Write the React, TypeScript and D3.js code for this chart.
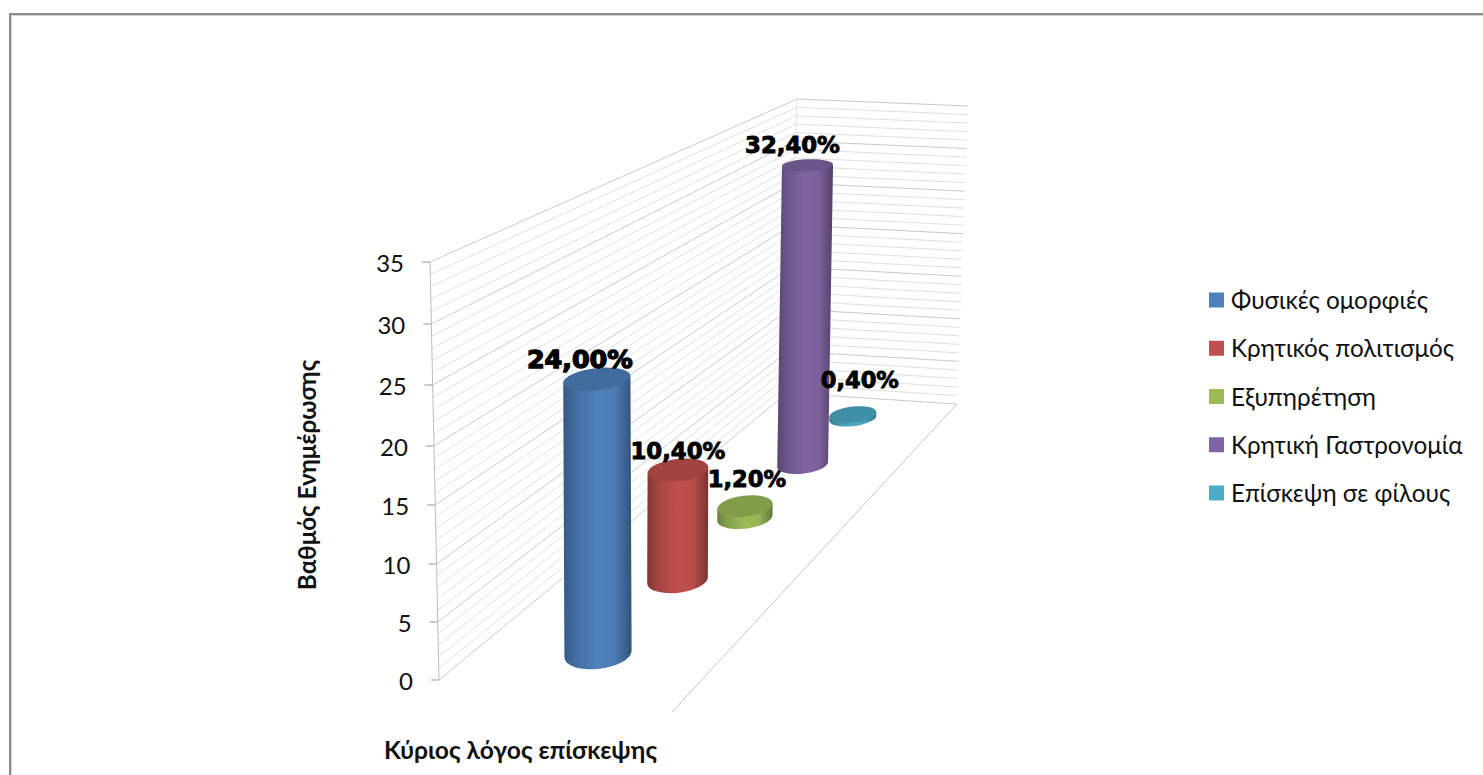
import React from "react";
import * as d3 from "d3";

// Share of respondents by main reason for visiting
const categories = ["Φυσικές ομορφιές", "Κρητικός πολιτισμός", "Εξυπηρέτηση", "Κρητική Γαστρονομία", "Επίσκεψη σε φίλους"];
const values = [24.0, 10.4, 1.2, 32.4, 0.4];
const valueLabels = ["24,00%", "10,40%", "1,20%", "32,40%", "0,40%"];
const colors = ["#4f81bd", "#c0504d", "#9bbb59", "#8064a2", "#4bacc6"];
const majorTicks = [0, 5, 10, 15, 20, 25, 30, 35];
const minorTicks = d3.range(0, 36);
const yTitle = "Βαθμός Ενημέρωσης";
const xTitle = "Κύριος λόγος επίσκεψης";

const WIDTH = 1483;
const HEIGHT = 775;
const FONT = "Lato, 'Open Sans', 'Noto Sans', sans-serif";
const LABEL_FONT = "'DejaVu Sans', 'Liberation Sans', sans-serif";

// Vertical scales along the three upright edges of the 3D walls
const frontY = d3.scaleLinear<number>().domain(majorTicks).range([680, 622, 564, 505, 446, 385, 324, 262]);
const frontX = d3.scaleLinear().domain([0, 35]).range([439, 430]);
const backY = d3.scaleLinear().domain([0, 35]).range([393, 99]);
const backX = d3.scaleLinear().domain([0, 35]).range([787, 797]);
const endY = d3.scaleLinear().domain([0, 35]).range([404, 106]);
const endX = d3.scaleLinear().domain([0, 35]).range([957, 968]);

// Depth position of each category along the floor
const depth = d3.scalePoint<string>().domain(categories).range([0, 1]);
const persp = (s: number) => 1 + 0.361 * s;
const baseX = (s: number) => (598 + 562.6 * s) / persp(s);
const baseY = (s: number) => (654 - 85 * s) / persp(s);
const radiusX = (s: number) => 33.8 / (1 + 0.43 * s);
const heightPerUnit = (s: number) => 11.45 / (1 + 0.32 * s);

// Cylinder ellipses flatten and level out as they get closer to eye level
const flatten = (y: number) => 0.17 + 0.00041 * y;
const tilt = d3.scaleLinear().domain([165, 380, 650]).range([-2, -6.5, -7]);

// Label anchor offsets from the top centre of each cylinder, with font size
const labelOffsets: [number, number, number][] = [
  [-17, -11, 25.4],
  [0, -11, 22.8],
  [2, -19, 22.6],
  [-15, -12, 22.8],
  [7, -27, 22.5],
];

function extremes(cx: number, cy: number, rx: number, ry: number, angle: number) {
  const th = (angle * Math.PI) / 180;
  const t = Math.atan2(-ry * Math.sin(th), rx * Math.cos(th));
  const dx = rx * Math.cos(t) * Math.cos(th) - ry * Math.sin(t) * Math.sin(th);
  const dy = rx * Math.cos(t) * Math.sin(th) + ry * Math.sin(t) * Math.cos(th);
  return { left: [cx - dx, cy - dy], right: [cx + dx, cy + dy] };
}

function Cylinder({ name, value, color, index }: { name: string; value: number; color: string; index: number }) {
  const s = depth(name) as number;
  const bx = baseX(s);
  const by = baseY(s);
  const h = value * heightPerUnit(s);
  const tx = bx - (640 - bx) * 1e-4 * h;
  const ty = by - h;
  const rx = radiusX(s);
  const ryTop = rx * flatten(ty);
  const ryBase = rx * flatten(by);
  const tiltTop = tilt(ty);
  const tiltBase = tilt(by);
  const top = extremes(tx, ty, rx, ryTop, tiltTop);
  const base = extremes(bx, by, rx, ryBase, tiltBase);
  const side = d3.path();
  side.moveTo(top.left[0], top.left[1]);
  side.lineTo(base.left[0], base.left[1]);
  const body = `${side.toString()}A${rx},${ryBase} ${tiltBase} 0 0 ${base.right[0]},${base.right[1]}L${top.right[0]},${top.right[1]}Z`;
  const rgb = d3.rgb(color);
  const [ox, oy, size] = labelOffsets[index];
  return (
    <g>
      <defs>
        <linearGradient id={`side-${index}`} x1="0" x2="1" y1="0" y2="0">
          <stop offset="0" stopColor={rgb.darker(1.05).formatHex()} />
          <stop offset="0.18" stopColor={rgb.darker(0.45).formatHex()} />
          <stop offset="0.5" stopColor={color} />
          <stop offset="0.75" stopColor={rgb.darker(0.12).formatHex()} />
          <stop offset="1" stopColor={rgb.darker(1.25).formatHex()} />
        </linearGradient>
      </defs>
      <path d={body} fill={`url(#side-${index})`} />
      <ellipse
        cx={tx}
        cy={ty}
        rx={rx}
        ry={ryTop}
        fill={rgb.darker(0.5).formatHex()}
        transform={`rotate(${tiltTop} ${tx} ${ty})`}
      />
      <text
        x={tx + ox}
        y={ty + oy}
        textAnchor="middle"
        fontFamily={LABEL_FONT}
        fontWeight={700}
        fontSize={size}
        fill="#000"
        stroke="#000"
        strokeWidth={size > 24 ? 1.4 : 0.9}
      >
        {valueLabels[index]}
      </text>
    </g>
  );
}

export default function App() {
  return (
    <svg
      width={WIDTH}
      height={HEIGHT}
      viewBox={`0 0 ${WIDTH} ${HEIGHT}`}
      style={{ position: "fixed", left: 0, top: 0, display: "block", background: "#fff" }}
    >
      {/* Outer chart frame, running off the page on the right and bottom */}
      <path d={`M10,${HEIGHT + 5}V14H${WIDTH + 5}`} fill="none" stroke="#8c8c8c" strokeWidth={2} />
      <path d={`M11.5,${HEIGHT + 5}V15.5H${WIDTH + 5}`} fill="none" stroke="#d4d4d4" strokeWidth={1} />

      {/* Wall gridlines */}
      <g fill="none">
        {minorTicks.map((v) => (
          <path
            key={v}
            d={`M${frontX(v)},${frontY(v)}L${backX(v)},${backY(v)}L${endX(v)},${endY(v)}`}
            stroke={v % 5 === 0 ? "#cacaca" : "#e0e0e0"}
            strokeWidth={1}
          />
        ))}
      </g>

      {/* Value axis edge, ticks and numbers */}
      <path d={`M${frontX(0)},${frontY(0)}L${frontX(35)},${frontY(35)}`} stroke="#bdbdbd" fill="none" />
      <path d={`M${backX(0)},${backY(0)}L${backX(35)},${backY(35)}`} stroke="#e2e2e2" fill="none" />
      {majorTicks.map((v) => (
        <g key={v}>
          <line x1={frontX(v) - 8} x2={frontX(v)} y1={frontY(v)} y2={frontY(v)} stroke="#a6a6a6" strokeWidth={1.2} />
          <text
            x={frontX(v) - 26}
            y={frontY(v) + 3.5}
            textAnchor="end"
            dominantBaseline="middle"
            fontFamily={FONT}
            fontSize={24}
            fill="#111"
          >
            {v}
          </text>
        </g>
      ))}

      {/* Floor edge toward the viewer */}
      <line x1={672} y1={712} x2={957} y2={404} stroke="#c4c4c4" strokeWidth={1} />

      {/* Cylinders */}
      {categories.map((c, i) => (
        <Cylinder key={c} name={c} value={values[i]} color={colors[i]} index={i} />
      ))}

      {/* Axis titles */}
      <text
        transform="translate(316,475) rotate(-90)"
        textAnchor="middle"
        fontFamily={FONT}
        fontWeight={700}
        fontSize={24.2}
        fill="#111"
      >
        {yTitle}
      </text>
      <text x={384} y={759} fontFamily={FONT} fontWeight={700} fontSize={24.6} fill="#111">
        {xTitle}
      </text>

      {/* Legend */}
      {categories.map((c, i) => {
        const y = 300 + i * 48.25;
        return (
          <g key={c}>
            <rect x={1209} y={y - 7.5} width={15} height={15} fill={colors[i]} />
            <text x={1231} y={y + 9} fontFamily={FONT} fontSize={24.3} fill="#111">
              {c}
            </text>
          </g>
        );
      })}
    </svg>
  );
}
